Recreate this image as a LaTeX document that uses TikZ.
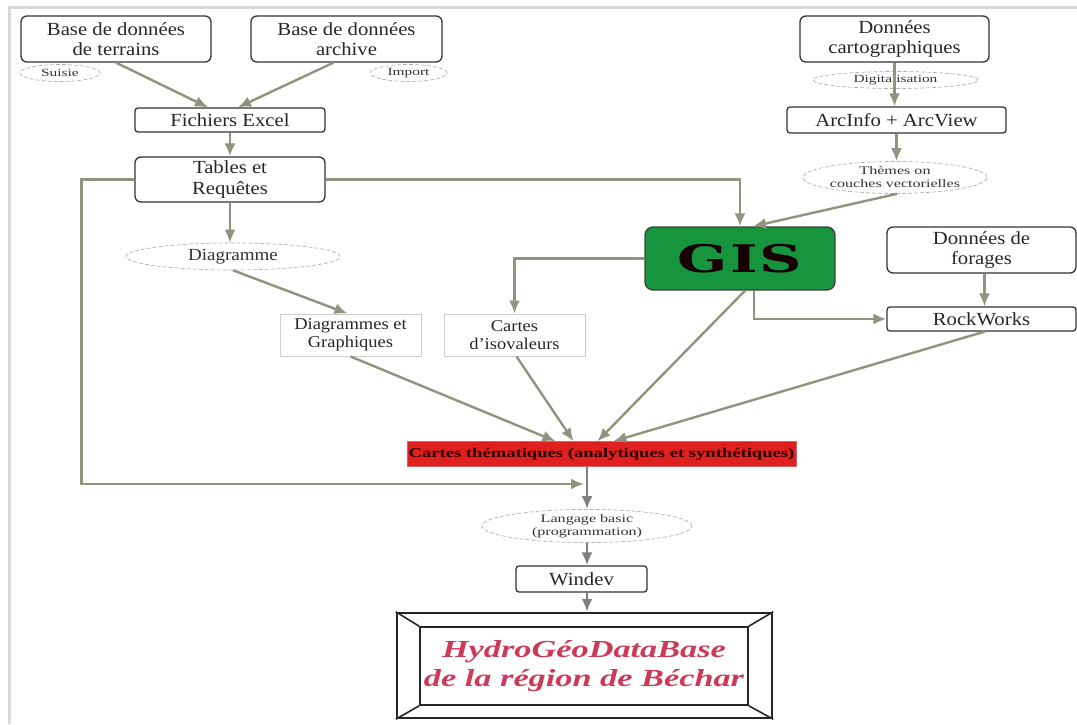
\documentclass[tikz,border=0pt]{standalone}
\usepackage{fontspec}
\setmainfont[FakeStretch=1.12]{Liberation Serif}
\newfontfamily\widefont[FakeStretch=1.4]{Liberation Serif}
\newfontfamily\gisfont[FakeStretch=1.55,LetterSpace=6]{DejaVu Serif}
\usetikzlibrary{shapes.geometric,arrows.meta}

\definecolor{arrowc}{RGB}{146,146,126}
\definecolor{arrowg}{RGB}{128,128,128}
\definecolor{gisgreen}{RGB}{22,148,62}
\definecolor{cartered}{RGB}{222,32,30}
\definecolor{titlered}{RGB}{204,58,88}
\definecolor{framec}{RGB}{218,218,218}

\tikzset{
  box/.style={draw=black!80, line width=1.3pt, rounded corners=6pt, align=center,
    font=\fontsize{18.5}{20.5}\selectfont, text=black!85, inner sep=0pt},
  flatbox/.style={box, rounded corners=3pt},
  greybox/.style={draw=black!20, line width=1pt, align=center,
    font=\fontsize{16.5}{18.5}\selectfont, text=black!85, inner sep=0pt},
  bubble/.style={ellipse, draw=black!30, dashed, dash pattern=on 4pt off 2pt,
    line width=.7pt, align=center, inner sep=0pt, text=black!80,
    font=\widefont\fontsize{11}{12}\selectfont},
  link/.style={draw=arrowc, line width=2.4pt, -{Latex[length=13pt,width=11pt]}},
}

\begin{document}
\begin{tikzpicture}[x=1pt,y=-1pt]
  \useasboundingbox (0,0) rectangle (1077,724);
  \draw[framec, line width=3pt] (9.5,724) -- (9.5,7.5) -- (1077,7.5);

  % sources
  \node[box, minimum width=190, minimum height=46] (terrains) at (116,39)
    {Base de données\\de terrains};
  \node[box, minimum width=191, minimum height=46] (archive) at (346.5,39)
    {Base de données\\archive};
  \node[bubble, minimum width=80, minimum height=17] (saisie) at (60,73) {Suisie};
  \node[bubble, minimum width=77, minimum height=17] (import) at (408.5,73) {Import};
  \node[flatbox, minimum width=190, minimum height=24] (excel) at (230,120)
    {Fichiers Excel};
  \node[box, minimum width=190, minimum height=45] (tables) at (230,179.5)
    {Tables et\\Requêtes};
  \node[bubble, minimum width=214, minimum height=27,
    font=\fontsize{17}{18}\selectfont] (diag) at (233,256.5) {Diagramme};
  \node[greybox, minimum width=141, minimum height=42] (graph) at (350.5,335)
    {Diagrammes et\\Graphiques};
  \node[greybox, minimum width=141, minimum height=42] (iso) at (514.5,335)
    {Cartes\\d’isovaleurs};

  % cartographie
  \node[box, minimum width=189, minimum height=46] (carto) at (894.5,39)
    {Données\\cartographiques};
  \node[bubble, minimum width=165, minimum height=17] (digit) at (895.5,80)
    {Digitalisation};
  \node[flatbox, minimum width=219, minimum height=26] (arcinfo) at (896.5,120)
    {ArcInfo + ArcView};
  \node[bubble, minimum width=184, minimum height=32,
    font=\widefont\fontsize{11.5}{13}\selectfont] (themes) at (895,177.5)
    {Thèmes on\\couches vectorielles};

  \node[box, fill=gisgreen, draw=black!75, rounded corners=8pt,
    minimum width=190, minimum height=63, text=black!90!red,
    font=\gisfont\bfseries\fontsize{38}{38}\selectfont] (gis) at (740,258.5) {GIS};
  \node[box, minimum width=189, minimum height=46] (forages) at (981.5,250)
    {Données de\\forages};
  \node[flatbox, minimum width=189, minimum height=24] (rock) at (981.5,319)
    {RockWorks};

  % sorties
  \node[fill=cartered, draw=red!70!black!60, line width=.6pt, minimum width=389,
    minimum height=25, inner sep=0pt, text=black!85!red,
    font=\widefont\bfseries\fontsize{13.3}{14}\selectfont] (red) at (601.5,454)
    {Cartes thématiques (analytiques et synthétiques)};
  \node[bubble, minimum width=210, minimum height=32,
    font=\widefont\fontsize{11.5}{13}\selectfont] (lang) at (587,526)
    {Langage basic\\(programmation)};
  \node[flatbox, minimum width=131, minimum height=26] (windev) at (581.5,579)
    {Windev};
  \node[draw=black!85, line width=2.4pt, minimum width=375, minimum height=105,
    inner sep=0pt] (hdb) at (584.5,665.5) {};
  \node[draw=black!85, line width=1.6pt, minimum width=328, minimum height=78,
    inner sep=0pt, align=center, text=titlered,
    font=\widefont\bfseries\itshape\fontsize{24.5}{29}\selectfont] (hdbin) at (584,666)
    {HydroGéoDataBase\\de la région de Béchar};
  \foreach \c in {north west,north east,south west,south east}
    \draw[black!85, line width=1.6pt] (hdb.\c) -- (hdbin.\c);

  \coordinate (merge) at (584,484);

  \begin{scope}[every edge/.style={link}]
    \path (terrains.south) edge ([xshift=-22pt]excel.north);
    \path ([xshift=-13pt]archive.south) edge ([xshift=8pt]excel.north);
    \path (excel) edge (tables);
    \path (tables.south) edge (tables.south |- diag.north);
    \path (diag.south) edge ([xshift=-3pt]graph.north);
    \path (graph.south) edge ([xshift=-46pt]red.north);
    \path ([xshift=2pt]iso.south) edge ([xshift=-28pt]red.north);
    \path ([xshift=5pt]gis.south) edge ([xshift=-4pt]red.north);
    \path ([xshift=3pt]rock.south) edge ([xshift=12pt]red.north);
    \path ([xshift=3pt]forages.south) edge ([xshift=3pt]rock.north);
    \path (carto.south) edge (carto.south |- arcinfo.north);
    \path (arcinfo.south) edge (arcinfo.south |- themes.north);
    \path ([xshift=2pt]themes.south) edge ([xshift=13pt]gis.north);
  \end{scope}

  \draw[link] (tables.west) -- ++(-53,0) |- (merge);
  \draw[link] (tables.east) -| (gis.north);
  \draw[link] (gis.west) -| (iso.north);
  \draw[link] ([xshift=14pt]gis.south) |- (rock.west);

  \begin{scope}[every edge/.style={link, draw=arrowg}]
    \path (red.south -| lang.north) edge (lang.north);
    \path (lang.south) edge (lang.south |- windev.north);
    \path (lang.south |- windev.south) edge (lang.south |- hdb.north);
  \end{scope}
\end{tikzpicture}
\end{document}
